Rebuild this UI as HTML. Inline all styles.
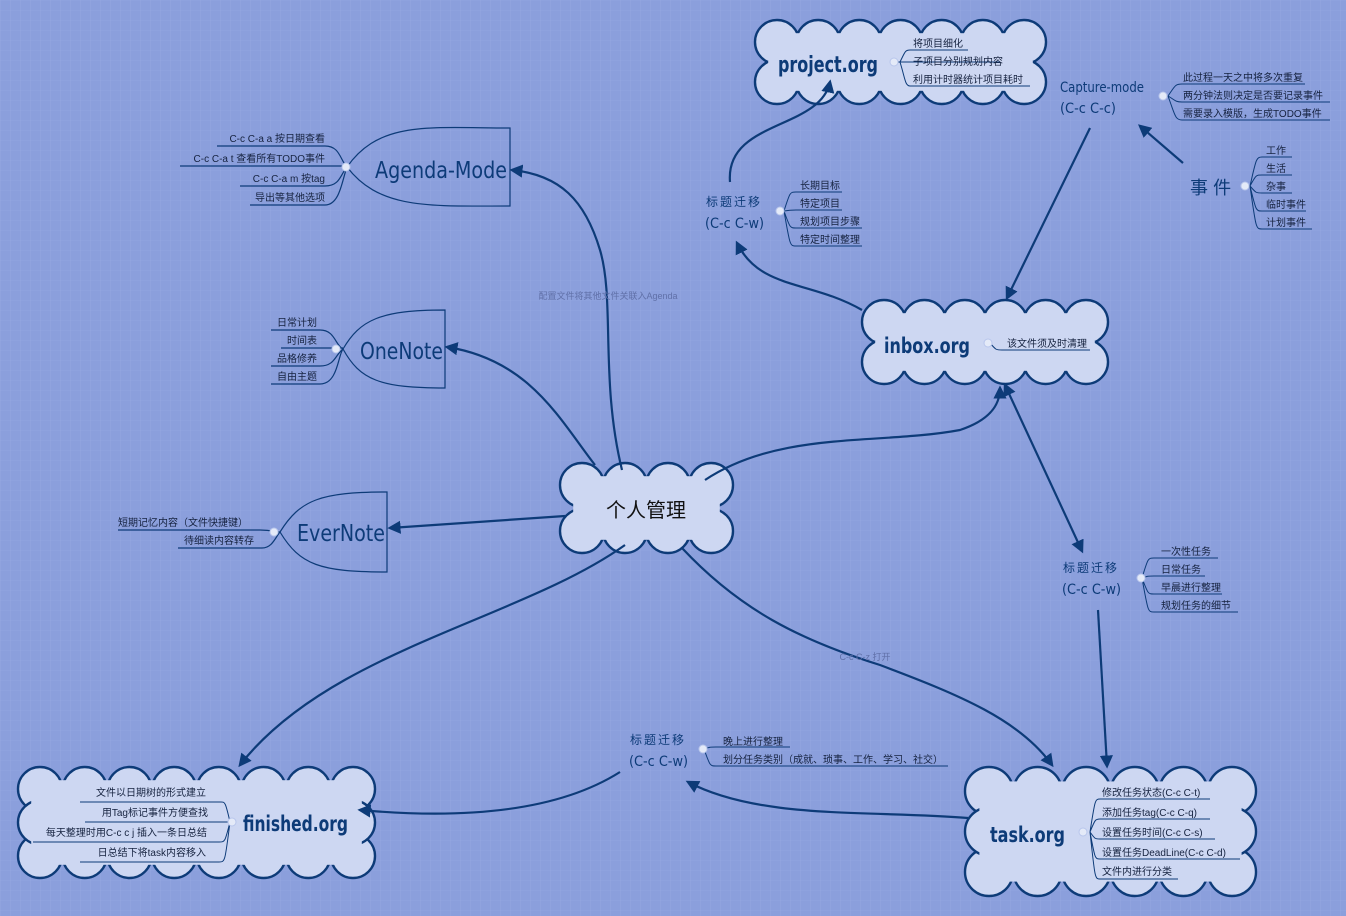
<!DOCTYPE html>
<html><head><meta charset="utf-8"><style>
body{margin:0;background:#8b9fdc;}
svg{display:block}
text{font-family:"Liberation Sans","Noto Sans CJK SC",sans-serif;fill:#15223f;font-size:10px}
.t{fill:#0d3b78;font-family:"DejaVu Sans Condensed","DejaVu Sans","Noto Sans CJK SC",sans-serif}
.ln{stroke:#0d3b78;stroke-width:1.2;fill:none}
.c{stroke:#0d3b78;stroke-width:2.2;fill:none}
</style></head><body>
<svg id="s" width="1346" height="916" viewBox="0 0 1346 916" xmlns="http://www.w3.org/2000/svg">
<defs>
<pattern id="g" width="10" height="10" patternUnits="userSpaceOnUse"><path d="M10 0H0V10" fill="none" stroke="#9aace2" stroke-width="0.6"/></pattern>
<marker id="a" viewBox="0 0 10 10" refX="8" refY="5" markerWidth="6" markerHeight="6" orient="auto-start-reverse"><path d="M0 0L10 5L0 10z" fill="#0d3b78"/></marker>
</defs>
<rect width="1346" height="916" fill="#8b9fdc"/>
<rect width="1346" height="916" fill="url(#g)"/>
<g id="clouds"></g>

<path class="c" marker-end="url(#a)" d="M622 470 C600 380 615 300 600 250 C585 200 560 175 512 170"/>
<path class="c" marker-end="url(#a)" d="M595 465 C560 420 530 360 447 347"/>
<path class="c" marker-end="url(#a)" d="M565 516 L390 528"/>
<path class="c" marker-end="url(#a)" d="M625 545 C520 620 330 650 240 765"/>
<path class="c" marker-end="url(#a)" d="M620 772 C560 810 470 820 360 810"/>
<path class="c" marker-end="url(#a)" d="M968 818 C870 810 760 820 688 782"/>
<path class="c" marker-end="url(#a)" d="M682 548 C740 610 800 640 880 665 C960 695 1020 720 1052 765"/>
<path class="c" marker-end="url(#a)" d="M705 480 C780 430 880 445 960 430 C990 420 1000 405 1000 388"/>
<path class="c" marker-start="url(#a)" marker-end="url(#a)" d="M1005 385 L1082 551"/>
<path class="c" marker-end="url(#a)" d="M1098 610 L1107 766"/>
<path class="c" marker-end="url(#a)" d="M1090 128 L1007 298"/>
<path class="c" marker-end="url(#a)" d="M1183 163 L1140 126"/>
<path class="c" marker-end="url(#a)" d="M862 310 C810 280 760 290 737 243"/>
<path class="c" marker-end="url(#a)" d="M730 182 C725 120 820 130 830 82"/>
<text x="608" y="299" text-anchor="middle" style="fill:#6070a8;font-size:9px">配置文件将其他文件关联入Agenda</text>
<text x="865" y="660" text-anchor="middle" style="fill:#6070a8;font-size:9px">C-c C-z 打开</text>

<path class="ln" d="M347 167 C380 120 430 128 510 128 V206 C430 206 380 210 347 167"/>
<text class="t" x="375" y="178" textLength="132" lengthAdjust="spacingAndGlyphs" style="font-size:23px">Agenda-Mode</text>
<path class="ln" d="M217 146H325C340 146 340 160 347 167 M180 166H347 M240 186H325C340 186 340 175 347 167 M250 205H325C340 205 342 180 347 167"/>
<text x="325" y="142" text-anchor="end">C-c C-a  a 按日期查看</text>
<text x="325" y="162" text-anchor="end">C-c C-a t  查看所有TODO事件</text>
<text x="325" y="182" text-anchor="end">C-c C-a m 按tag</text>
<text x="325" y="201" text-anchor="end">导出等其他选项</text>

<path class="ln" d="M343 349 C360 320 380 310 445 310 V388 C380 388 360 380 343 349"/>
<text class="t" x="360" y="359" textLength="83" lengthAdjust="spacingAndGlyphs" style="font-size:23px">OneNote</text>
<path class="ln" d="M271 330H320C335 330 335 345 343 349 M281 348H343 M271 366H320C335 366 335 355 343 349 M271 384H320C338 384 338 355 343 349"/>
<text x="317" y="326" text-anchor="end">日常计划</text>
<text x="317" y="344" text-anchor="end">时间表</text>
<text x="317" y="362" text-anchor="end">品格修养</text>
<text x="317" y="380" text-anchor="end">自由主题</text>

<path class="ln" d="M280 532 C300 500 320 492 387 492 V572 C320 572 300 565 280 532"/>
<text class="t" x="297" y="541" textLength="88" lengthAdjust="spacingAndGlyphs" style="font-size:23px">EverNote</text>
<path class="ln" d="M118 530H260C272 530 275 532 280 532 M178 548H262C272 548 275 538 280 532"/>
<text x="248" y="526" text-anchor="end">短期记忆内容（文件快捷键）</text>
<text x="254" y="544" text-anchor="end">待细读内容转存</text>

<text x="646" y="517" text-anchor="middle" style="font-size:20px;fill:#111">个人管理</text>

<text class="t" x="778" y="72" textLength="100" lengthAdjust="spacingAndGlyphs" style="font-size:22px;font-weight:bold">project.org</text>
<path class="ln" d="M900 62C905 52 905 50 910 50H968 M895 62H1000 M900 62C905 78 905 86 910 86H1030" style="stroke-width:1"/>
<text x="913" y="47">将项目细化</text>
<text x="913" y="65">子项目分别规划内容</text>
<text x="913" y="83">利用计时器统计项目耗时</text>

<text class="t" x="1060" y="92" textLength="84" lengthAdjust="spacingAndGlyphs" style="font-size:14px">Capture-mode</text>
<text class="t" x="1060" y="113" textLength="56" lengthAdjust="spacingAndGlyphs" style="font-size:14px">(C-c C-c)</text>
<path class="ln" d="M1168 96C1175 86 1175 84 1182 84H1305 M1168 96C1175 100 1175 102 1182 102H1330 M1168 96C1175 115 1175 120 1182 120H1330" style="stroke-width:1"/>
<text x="1183" y="81">此过程一天之中将多次重复</text>
<text x="1183" y="99">两分钟法则决定是否要记录事件</text>
<text x="1183" y="117">需要录入模版，生成TODO事件</text>

<text class="t" x="1190" y="194" style="font-size:18px">事 件</text>
<path class="ln" d="M1250 186C1256 160 1256 157 1262 157H1292 M1250 186C1256 175 1256 175 1262 175H1292 M1250 186C1256 193 1256 193 1262 193H1292 M1250 186C1256 211 1256 211 1262 211H1306 M1250 186C1256 229 1256 229 1262 229H1312" style="stroke-width:1"/>
<text x="1266" y="154">工作</text>
<text x="1266" y="172">生活</text>
<text x="1266" y="190">杂事</text>
<text x="1266" y="208">临时事件</text>
<text x="1266" y="226">计划事件</text>

<text class="t" x="706" y="206" textLength="54" style="font-size:12px">标题迁移</text>
<text class="t" x="705" y="228" textLength="59" lengthAdjust="spacingAndGlyphs" style="font-size:14px">(C-c C-w)</text>
<path class="ln" d="M784 211C790 192 790 192 796 192H842 M784 211C790 210 790 210 796 210H842 M784 211C790 228 790 228 796 228H862 M784 211C790 246 790 246 796 246H862" style="stroke-width:1"/>
<text x="800" y="189">长期目标</text>
<text x="800" y="207">特定项目</text>
<text x="800" y="225">规划项目步骤</text>
<text x="800" y="243">特定时间整理</text>

<text class="t" x="884" y="353" textLength="86" lengthAdjust="spacingAndGlyphs" style="font-size:21px;font-weight:bold">inbox.org</text>
<path class="ln" d="M990 343C996 350 996 350 1002 350H1090" style="stroke-width:1"/>
<text x="1007" y="347">该文件须及时清理</text>

<text class="t" x="1063" y="572" textLength="54" style="font-size:12px">标题迁移</text>
<text class="t" x="1062" y="594" textLength="59" lengthAdjust="spacingAndGlyphs" style="font-size:14px">(C-c C-w)</text>
<path class="ln" d="M1142 578C1148 558 1148 558 1154 558H1218 M1142 578C1148 576 1148 576 1154 576H1205 M1142 578C1148 594 1148 594 1154 594H1222 M1142 578C1148 612 1148 612 1154 612H1238" style="stroke-width:1"/>
<text x="1161" y="555">一次性任务</text>
<text x="1161" y="573">日常任务</text>
<text x="1161" y="591">早晨进行整理</text>
<text x="1161" y="609">规划任务的细节</text>

<text class="t" x="630" y="744" textLength="54" style="font-size:12px">标题迁移</text>
<text class="t" x="629" y="766" textLength="59" lengthAdjust="spacingAndGlyphs" style="font-size:14px">(C-c C-w)</text>
<path class="ln" d="M704 749C710 747 710 747 716 747H790 M704 749C710 766 710 766 716 766H948" style="stroke-width:1"/>
<text x="723" y="745">晚上进行整理</text>
<text x="723" y="763">划分任务类别（成就、琐事、工作、学习、社交）</text>

<text class="t" x="990" y="842" textLength="75" lengthAdjust="spacingAndGlyphs" style="font-size:21px;font-weight:bold">task.org</text>
<path class="ln" d="M1090 832C1095 800 1095 799 1100 799H1210 M1090 832C1095 820 1095 819 1100 819H1210 M1090 832C1095 839 1095 839 1100 839H1215 M1090 832C1095 859 1095 859 1100 859H1240 M1090 832C1095 879 1095 879 1100 879H1178" style="stroke-width:1"/>
<text x="1102" y="796">修改任务状态(C-c C-t)</text>
<text x="1102" y="816">添加任务tag(C-c C-q)</text>
<text x="1102" y="836">设置任务时间(C-c C-s)</text>
<text x="1102" y="856">设置任务DeadLine(C-c C-d)</text>
<text x="1102" y="875">文件内进行分类</text>

<text class="t" x="243" y="831" textLength="105" lengthAdjust="spacingAndGlyphs" style="font-size:21px;font-weight:bold">finished.org</text>
<path class="ln" d="M230 822C225 800 225 802 219 802H80 M230 822C225 822 225 822 219 822H85 M230 822C225 842 225 842 219 842H33 M230 822C225 862 225 862 219 862H80" style="stroke-width:1"/>
<text x="206" y="796" text-anchor="end">文件以日期树的形式建立</text>
<text x="208" y="816" text-anchor="end">用Tag标记事件方便查找</text>
<text x="207" y="836" text-anchor="end">每天整理时用C-c c j 插入一条日总结</text>
<text x="206" y="856" text-anchor="end">日总结下将task内容移入</text>

<g fill="#e4eaf8" stroke="#b8c6ec" stroke-width="1">
<circle cx="346" cy="167" r="4"/><circle cx="336" cy="349" r="4"/><circle cx="274" cy="532" r="4"/>
<circle cx="894" cy="62" r="4"/><circle cx="1163" cy="96" r="4"/><circle cx="1245" cy="186" r="4"/>
<circle cx="780" cy="211" r="4"/><circle cx="988" cy="343" r="4"/><circle cx="1141" cy="578" r="4"/>
<circle cx="703" cy="749" r="4"/><circle cx="1083" cy="832" r="4"/><circle cx="232" cy="822" r="4"/>
</g>
</svg>
<script>
(function(){
var ns="http://www.w3.org/2000/svg",g=document.getElementById("clouds");
function el(n,a,p){var e=document.createElementNS(ns,n);for(var k in a)e.setAttribute(k,a[k]);(p||g).appendChild(e);return e;}
function cloud(x0,y0,x1,y1,r){
 var grp=el("g",{});
 var pts=[];
 var nx=Math.max(2,Math.round((x1-x0-2*r)/(1.9*r))),ny=Math.max(1,Math.round((y1-y0-2*r)/(1.9*r)));
 for(var i=0;i<=nx;i++){var x=x0+r+(x1-x0-2*r)*i/nx;pts.push([x,y0+r]);pts.push([x,y1-r]);}
 for(var j=1;j<ny;j++){var y=y0+r+(y1-y0-2*r)*j/ny;pts.push([x0+r,y]);pts.push([x1-r,y]);}
 pts.forEach(function(p){el("circle",{cx:p[0],cy:p[1],r:r,fill:"#cdd7f2",stroke:"#0d3b78","stroke-width":2.4},grp);});
 el("rect",{x:x0+r*0.6,y:y0+r*0.6,width:x1-x0-1.2*r,height:y1-y0-1.2*r,fill:"#cdd7f2"},grp);
}
cloud(755,20,1046,104,22);
cloud(862,300,1108,384,22);
cloud(560,463,733,553,22);
cloud(18,767,375,878,22);
cloud(965,767,1256,896,24);
})();
</script>
</body></html>
